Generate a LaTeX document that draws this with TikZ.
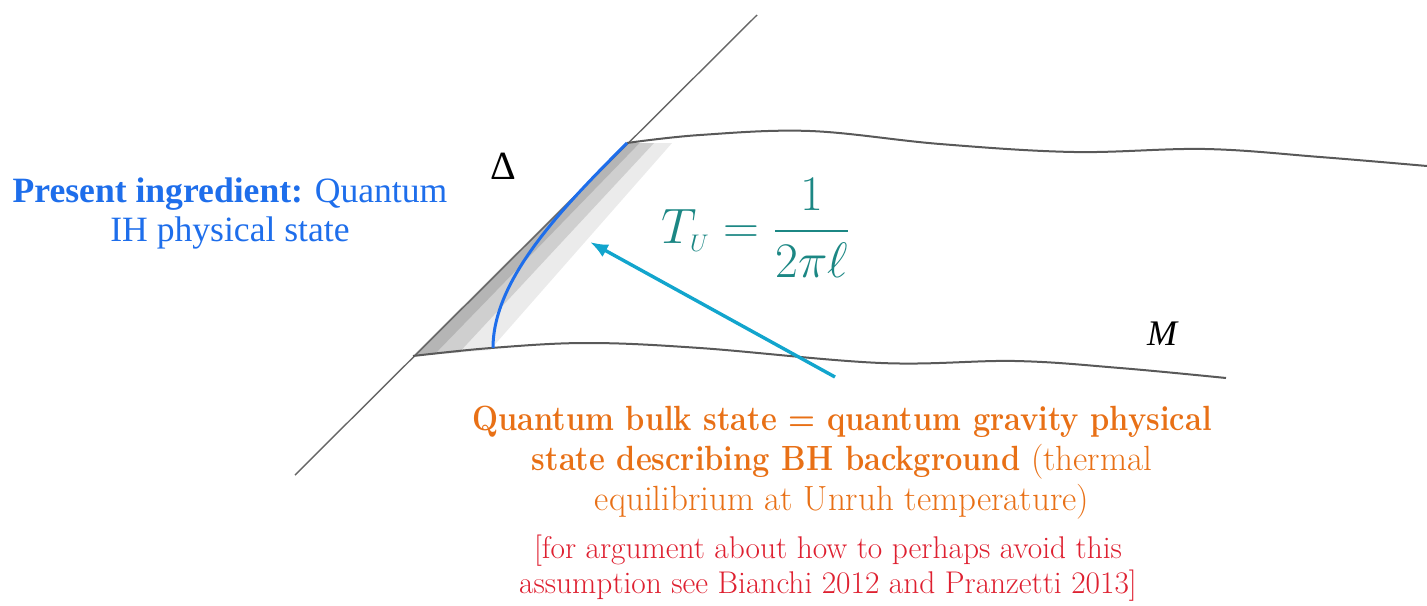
\documentclass[tikz,border=0pt]{standalone}
\usepackage{amsmath}
\usepackage{graphicx}
\usepackage{fontspec}
\newfontfamily\timesfont{Liberation Serif}
\usetikzlibrary{arrows.meta,positioning,calc}

\definecolor{ihblue}{RGB}{30,110,235}
\definecolor{bulkorange}{RGB}{232,112,22}
\definecolor{refred}{RGB}{222,32,48}
\definecolor{tealtxt}{RGB}{28,135,132}
\definecolor{ptrcyan}{RGB}{18,165,205}
\newcommand{\bulkbf}[1]{\scalebox{0.88}[1]{\bfseries #1}}

\begin{document}
\begin{tikzpicture}[
    x=0.5pt,y=-0.5pt,
    slice/.style={draw=black!65,line width=1pt},
    horizon/.style={draw=black!60,line width=0.7pt},
    ptr/.style={-{Latex[length=9pt,width=7pt]},draw=ptrcyan,line width=1.7pt},
    ihcurve/.style={draw=ihblue,line width=1.5pt},
    txt/.style={align=center,inner sep=0pt}
]
\useasboundingbox (0,0) rectangle (1427,605);
% corners of the slab
\coordinate (hlo) at (413,356);
\coordinate (hup) at (627,143);
\coordinate (slo) at (490,350);
\coordinate (sup) at (672,143);
\coordinate (iho) at (493,348);
\coordinate (hend1) at (295,475);
\coordinate (hend2) at (757,15);
% shaded strip along the horizon
\fill[gray!16] (hlo) -- (hup) -- (sup) -- (slo) -- cycle;
\fill[gray!38] (hlo) -- (hup) -- ($(hup)!0.6!(sup)$) -- ($(hlo)!0.6!(slo)$) -- cycle;
\fill[gray!58] (hlo) -- (hup) -- ($(hup)!0.28!(sup)$) -- ($(hlo)!0.28!(slo)$) -- cycle;
\draw[horizon] (hend1) -- (hend2);
\draw[slice] plot[smooth,tension=0.6] coordinates {(hlo) (491,348) (587,343) (700,348) (881,363) (1015,361) (1120,368) (1226,378)};
\draw[slice] plot[smooth,tension=0.6] coordinates {(hup) (700,135) (810,131) (940,144) (1074,152) (1205,149) (1320,157) (1427,166)};
\draw[ihcurve] (hup) .. controls (560,210) and (493,280) .. (iho);
% labels
\node[txt,font=\timesfont\fontsize{20}{22}\selectfont] (delta) at (503,166) {Δ};
\node[txt,font=\timesfont\itshape\fontsize{18}{20}\selectfont] (mlab) at (1162,334) {M};
\node[txt,text=tealtxt,font=\fontsize{25}{29}\selectfont] (temp) at (756,228) {$T_{\scriptscriptstyle U}=\dfrac{1}{2\pi\ell}$};
\node[txt,text=ihblue,font=\timesfont\fontsize{17.8}{19.5}\selectfont] (ingr) at (230,213) {\textbf{Present ingredient:} Quantum\\IH physical state};
\node[txt,text=bulkorange,font=\fontsize{17.5}{20}\selectfont] (bulk) at (842,463) {\bulkbf{Quantum bulk state = quantum gravity physical}\\\bulkbf{state describing BH background} (thermal\\equilibrium at Unruh temperature)};
\node[txt,text=refred,font=\fontsize{15.7}{17.5}\selectfont] (note) at (828,568) {[for argument about how to perhaps avoid this\\assumption see Bianchi 2012 and Pranzetti 2013]};
\coordinate (ptrtail) at (835,377);
\coordinate (ptrhead) at (590,242);
\draw[ptr] (ptrtail) -- (ptrhead);
\end{tikzpicture}
\end{document}
